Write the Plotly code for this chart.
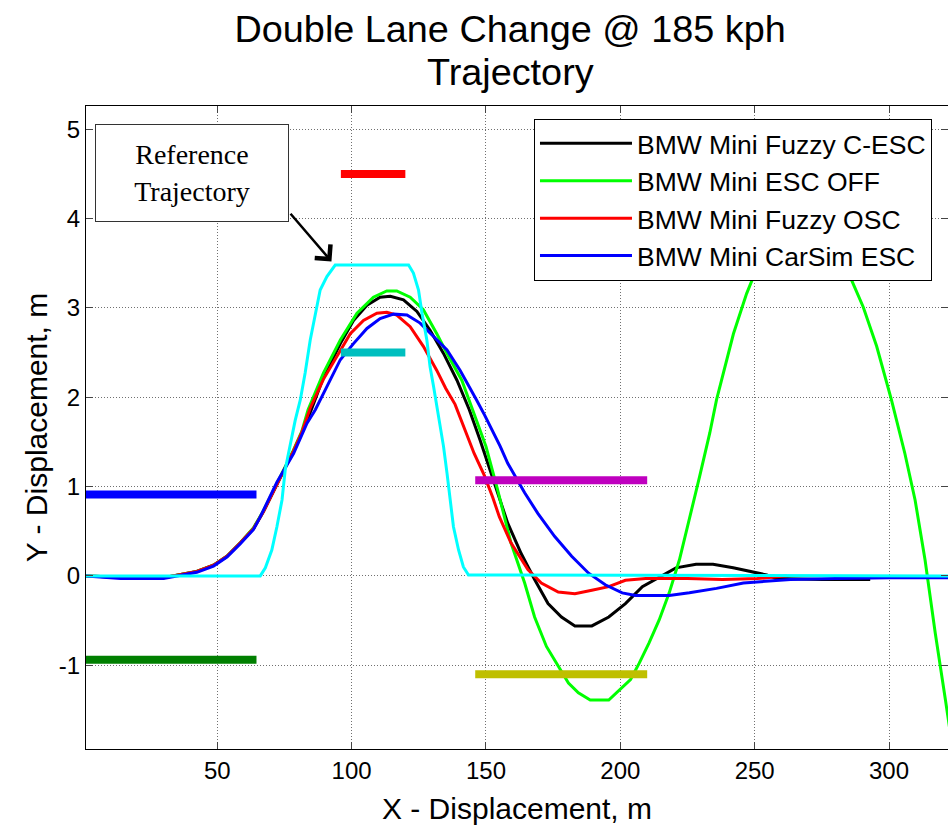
import plotly.graph_objects as go

# ---------------- data ----------------
ref_x = [1, 66, 67.9, 70.3, 72.2, 74.1, 75.3, 77.2, 79.0, 80.9, 82.7, 84.6, 86.5, 88.3, 90.8, 93.9,
         121.2, 123.0, 124.9, 126.2, 128.0, 129.2, 130.5, 131.7, 133.0, 134.2, 135.5, 136.7,
         137.9, 139.8, 141.6, 143.5, 322]
ref_y = [0, 0, 0.09, 0.29, 0.55, 0.85, 1.19, 1.49, 1.74, 1.97, 2.27, 2.64, 2.94, 3.20, 3.35, 3.48,
         3.48, 3.39, 3.20, 2.94, 2.64, 2.34, 2.12, 1.90, 1.71, 1.45, 1.15, 0.85,
         0.55, 0.29, 0.10, 0.01, 0]

cesc_x = [1, 10, 20, 30, 37.5, 42.4, 48.6, 53.6, 58.6, 63.5, 67.2, 70.9, 74.7, 78.4, 81.5, 85.0,
          89.5, 95.8, 100.7, 105.7, 110.6, 114.4, 119.3, 124.3, 129.2, 134.2, 139.2, 143.8,
          147.8, 152.0, 155.3, 158.1, 163.1, 168.1, 173.1, 178.1, 183.1, 189.4, 195.7, 201.9,
          208.2, 214.5, 220.7, 228.2, 234.5, 242.0, 249.5, 254.5, 258, 275, 293]
cesc_y = [0, -0.01, -0.02, -0.02, 0.02, 0.05, 0.12, 0.22, 0.37, 0.53, 0.72, 0.94, 1.17, 1.40, 1.60, 1.86,
          2.22, 2.60, 2.86, 3.03, 3.12, 3.13, 3.09, 2.96, 2.75, 2.49, 2.19, 1.86,
          1.52, 1.15, 0.85, 0.59, 0.25, -0.04, -0.31, -0.46, -0.56, -0.56, -0.46, -0.31,
          -0.12, -0.01, 0.09, 0.13, 0.13, 0.09, 0.04, 0.01, -0.03, -0.04, -0.04]

off_x = [1, 10, 20, 30, 37.5, 42.4, 48.6, 53.6, 58.6, 63.5, 67.2, 70.9, 74.7, 78.4, 81.5, 83.8,
         89.5, 95.8, 102.0, 108.1, 113.1, 116.8, 121.8, 126.7, 131.7, 135.5, 141.0, 144.5,
         147.5, 150.0, 154.2, 159.3, 164.4, 168.1, 172.5, 176.9, 180.7, 184.4, 188.8, 195.7,
         199.4, 203.8, 207.0, 210.7, 214.5, 218.2, 222.0, 225.7, 229.5, 233.3, 235.8, 242.1,
         247.0, 250.1, 254, 258, 263, 268, 273, 278, 282, 285.5, 290.4, 295.4, 300.9, 305.9,
         309.7, 313.4, 317.2, 321.0, 324]
off_y = [0, -0.01, -0.02, -0.02, 0.02, 0.05, 0.12, 0.22, 0.37, 0.54, 0.73, 0.95, 1.18, 1.41, 1.62, 1.86,
         2.27, 2.64, 2.94, 3.12, 3.19, 3.19, 3.12, 2.98, 2.71, 2.49, 2.19, 1.90,
         1.65, 1.45, 0.98, 0.37, -0.08, -0.46, -0.79, -1.01, -1.20, -1.31, -1.39, -1.39,
         -1.29, -1.16, -0.98, -0.75, -0.49, -0.19, 0.18, 0.63, 1.11, 1.60, 1.97, 2.71,
         3.16, 3.39, 3.62, 3.82, 3.95, 4.00, 3.95, 3.80, 3.60, 3.35, 3.01, 2.57, 1.97, 1.37,
         0.85, 0.18, -0.64, -1.39, -2.0]

osc_x = [1, 10, 20, 30, 37.5, 42.4, 48.6, 53.6, 58.6, 63.5, 67.2, 70.9, 74.7, 78.4, 81.5, 84.6,
         89.5, 94.5, 99.5, 104.4, 109.4, 113.1, 116.8, 121.8, 126.7, 131.7, 135.0, 138.5,
         142.0, 145.6, 149.3, 152.5, 155.0, 159.3, 165.6, 170.6, 176.9, 183.1, 189.4, 195.7,
         201.9, 209.5, 225, 238, 251, 262]
osc_y = [0, -0.01, -0.02, -0.02, 0.02, 0.05, 0.12, 0.22, 0.37, 0.53, 0.72, 0.94, 1.17, 1.40, 1.61, 1.88,
         2.20, 2.46, 2.71, 2.86, 2.94, 2.95, 2.92, 2.79, 2.57, 2.30, 2.10, 1.92,
         1.64, 1.37, 1.13, 0.88, 0.66, 0.37, 0.07, -0.08, -0.18, -0.20, -0.16, -0.12,
         -0.05, -0.03, -0.03, -0.04, -0.03, 0]

csim_x = [1, 10, 14, 30, 37.5, 42.4, 48.6, 53.6, 58.6, 63.5, 66.0, 70.0, 72.2, 78.4, 83.4, 86.5,
          90.8, 95.8, 100.7, 105.7, 110.6, 115.6, 120.6, 125.5, 130.5, 135.5, 140.4, 143.5,
          146.5, 149.5, 152.5, 155.3, 158.1, 164.4, 169.3, 175.6, 181.9, 188.2, 194.4, 200.7,
          205.7, 218.2, 225.7, 235.8, 245.8, 253.3, 263.3, 280, 300, 322]
csim_y = [0, -0.02, -0.03, -0.03, 0.01, 0.04, 0.11, 0.21, 0.36, 0.52, 0.66, 0.90, 1.05, 1.37, 1.71, 1.86,
          2.12, 2.42, 2.60, 2.77, 2.88, 2.93, 2.92, 2.83, 2.68, 2.53, 2.30, 2.14,
          1.97, 1.80, 1.62, 1.45, 1.26, 0.93, 0.70, 0.44, 0.22, 0.03, -0.10, -0.19,
          -0.22, -0.22, -0.19, -0.14, -0.08, -0.06, -0.04, -0.03, -0.02, -0.02]

series_names = ["BMW Mini Fuzzy C-ESC", "BMW Mini ESC OFF", "BMW Mini Fuzzy OSC", "BMW Mini CarSim ESC"]
series_colors = ["#000000", "#00ff00", "#ff0000", "#0000ff"]

# lane boundary markers: (x_start, x_end, y, color)
cone_x0 = [1, 1, 96, 96, 146, 146]
cone_x1 = [64.6, 64.6, 120, 120, 210, 210]
cone_y = [0.91, -0.94, 4.5, 2.5, 1.07, -1.10]
cone_colors = ["#0000ff", "#007f00", "#ff0000", "#00bfbf", "#bf00bf", "#bfbf00"]

x_ticks = [50, 100, 150, 200, 250, 300]
x_labels = ["50", "100", "150", "200", "250", "300"]
y_ticks = [-1, 0, 1, 2, 3, 4, 5]
y_labels = ["-1", "0", "1", "2", "3", "4", "5"]

title_line1 = "Double Lane Change @ 185 kph"
title_line2 = "Trajectory"

# ---------------- figure ----------------
fig = go.Figure()
for xs, ys, nm, col in zip([cesc_x, off_x, osc_x, csim_x], [cesc_y, off_y, osc_y, csim_y],
                           series_names, series_colors):
    fig.add_trace(go.Scatter(x=xs, y=ys, mode="lines", name=nm,
                             line=dict(color=col, width=3)))
fig.add_trace(go.Scatter(x=ref_x, y=ref_y, mode="lines", name="Reference",
                         line=dict(color="#00ffff", width=3), showlegend=False))
for x0, x1, yv, col in zip(cone_x0, cone_x1, cone_y, cone_colors):
    fig.add_trace(go.Scatter(x=[x0, x1], y=[yv, yv], mode="lines",
                             line=dict(color=col, width=8), showlegend=False, hoverinfo="skip"))

font_main = "Liberation Sans, Arial, sans-serif"
fig.update_layout(
    width=948, height=826,
    margin=dict(l=86, r=0, t=106, b=77),
    paper_bgcolor="white", plot_bgcolor="white",
    font=dict(family=font_main, color="black", size=24),
    title=dict(text=title_line1,
               font=dict(size=37.8, family=font_main, color="black"),
               x=0.492, xanchor="center", xref="paper",
               y=1 - 29 / 826, yanchor="middle", yref="container"),
    showlegend=True,
    legend=dict(x=0.5197, y=0.9805, xanchor="left", yanchor="top",
                bgcolor="white", bordercolor="black", borderwidth=1,
                font=dict(size=26.5, family=font_main, color="black"),
                itemwidth=92, tracegroupgap=0),
)
grid_style = dict(showgrid=True, gridcolor="#707070", griddash="1px,2px", gridwidth=1)
fig.update_xaxes(range=[1.15, 321.95], tickvals=x_ticks, ticktext=x_labels,
                 ticks="inside", ticklen=7,
                 showline=True, linecolor="black", linewidth=1, mirror="ticks",
                 zeroline=False, tickfont=dict(size=24), **grid_style,
                 title=dict(text="X - Displacement, m", font=dict(size=30), standoff=15))
fig.update_yaxes(range=[-1.938, 5.26], tickvals=y_ticks, ticktext=y_labels,
                 ticks="inside", ticklen=7,
                 showline=True, linecolor="black", linewidth=1, mirror="ticks",
                 zeroline=False, tickfont=dict(size=24), **grid_style,
                 title=dict(text="Y - Displacement, m", font=dict(size=30), standoff=2))

fig.add_annotation(x=0.492, y=(749.3 - 72) / 643.6, xref="paper", yref="paper",
                   text=title_line2, showarrow=False,
                   font=dict(size=37.8, family=font_main, color="black"),
                   xanchor="center", yanchor="middle")
fig.add_annotation(x=40.7, y=4.51, xref="x", yref="y", text="Reference<br>Trajectory",
                   showarrow=False, font=dict(family="Liberation Serif, Times New Roman, serif",
                                              size=28, color="black"),
                   bgcolor="white", bordercolor="#333333", borderwidth=1, borderpad=0,
                   width=192, height=96, xanchor="center", yanchor="middle")
fig.add_annotation(x=92.5, y=3.52, ax=76.8, ay=4.07, xref="x", yref="y", axref="x", ayref="y",
                   text="", showarrow=True, arrowhead=4, arrowwidth=2.5, arrowsize=1.6,
                   arrowcolor="black")

fig.write_html("out.html")
